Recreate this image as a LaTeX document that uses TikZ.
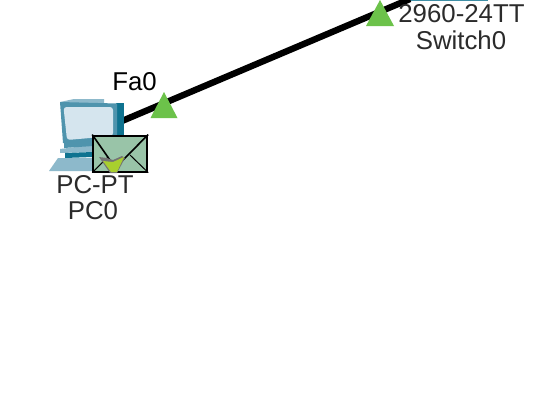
\documentclass[tikz,border=0pt]{standalone}
\usepackage{fontspec}
\setmainfont{Liberation Sans}
\definecolor{lbl}{HTML}{2B2B2B}
\definecolor{tri}{HTML}{6CC24A}
\definecolor{teal}{HTML}{0F7390}
\definecolor{monb}{HTML}{4F94AD}
\definecolor{monl}{HTML}{8DB9CB}
\definecolor{scr}{HTML}{D5E5EE}
\definecolor{env}{HTML}{99C4A8}
\definecolor{arrowg}{HTML}{A8CF2E}
\tikzset{
  lab/.style={font=\fontsize{25.8}{27}\selectfont,text=lbl,inner sep=0pt,align=center},
  link/.style={line width=6.4pt,draw=black},
  ok/.style={fill=tri,draw=none},
}
\begin{document}
\begin{tikzpicture}[x=1pt,y=-1pt]
\useasboundingbox (0,0) rectangle (542,402);
\fill[white] (0,0) rectangle (542,402);
% switch sliver
\fill[teal!80!white] (410,0) rectangle (488,1.3);
\coordinate (sw) at (410,-1);
\coordinate (pc) at (122,121);
\draw[link] (pc) -- (sw);
% PC
\fill[teal] (116,103) -- (123.5,103) -- (123.5,140) -- (116,140) -- cycle;
\fill[monl] (60,102) -- (74,99) -- (104,99) -- (104,103) -- (60,104) -- cycle;
\fill[monb] (60,102) -- (117,103.5) -- (117,143) -- (63,143) -- cycle;
\fill[scr,rounded corners=3pt] (63.5,107) -- (113,107) -- (113,136) -- (67,140) -- cycle;
\fill[monl] (60,149) -- (93,145) -- (93,152) -- (60,153) -- cycle;
\fill[monb] (64,143) -- (93,143) -- (93,146) -- (64,148) -- cycle;
\fill[teal] (65,153) -- (93,152) -- (93,157) -- (65,158) -- cycle;
\fill[monl] (58,158) -- (93,158) -- (93,171) -- (49,171) -- cycle;
% envelope
\node[draw=black,line width=2pt,fill=env,minimum width=54pt,minimum height=36pt,inner sep=0pt,anchor=north west] (mail) at (92.2,134.6) {};
\draw[black,line width=1.6pt] (mail.north west) -- (112,163) (mail.north east) -- (120,163);
\draw[black,line width=1.0pt] (mail.south west) -- (108,157) (mail.south east) -- (130,155);
\fill[black!55] (99,157) -- (107,158) -- (113,160) -- (122,156) -- (125,158) -- (117,173) -- (110,173) -- cycle;
\fill[arrowg] (103,161) -- (113,162) -- (124,157) -- (117,172) -- (111,172) -- cycle;
% triangles
\fill[ok] (150.5,118) -- (164,92) -- (177.5,118) -- cycle;
\fill[ok] (366,26) -- (380,0) -- (394,26) -- cycle;
% labels
\node[lab,text=black] (fa) at (134.5,81.5) {Fa0};
\node[lab] (pct) at (95,184.5) {PC-PT};
\node[lab] (pcn) at (93,210.5) {PC0};
\node[lab] (swm) at (461.5,14) {2960-24TT};
\node[lab] (swn) at (461,40) {Switch0};
\end{tikzpicture}
\end{document}
